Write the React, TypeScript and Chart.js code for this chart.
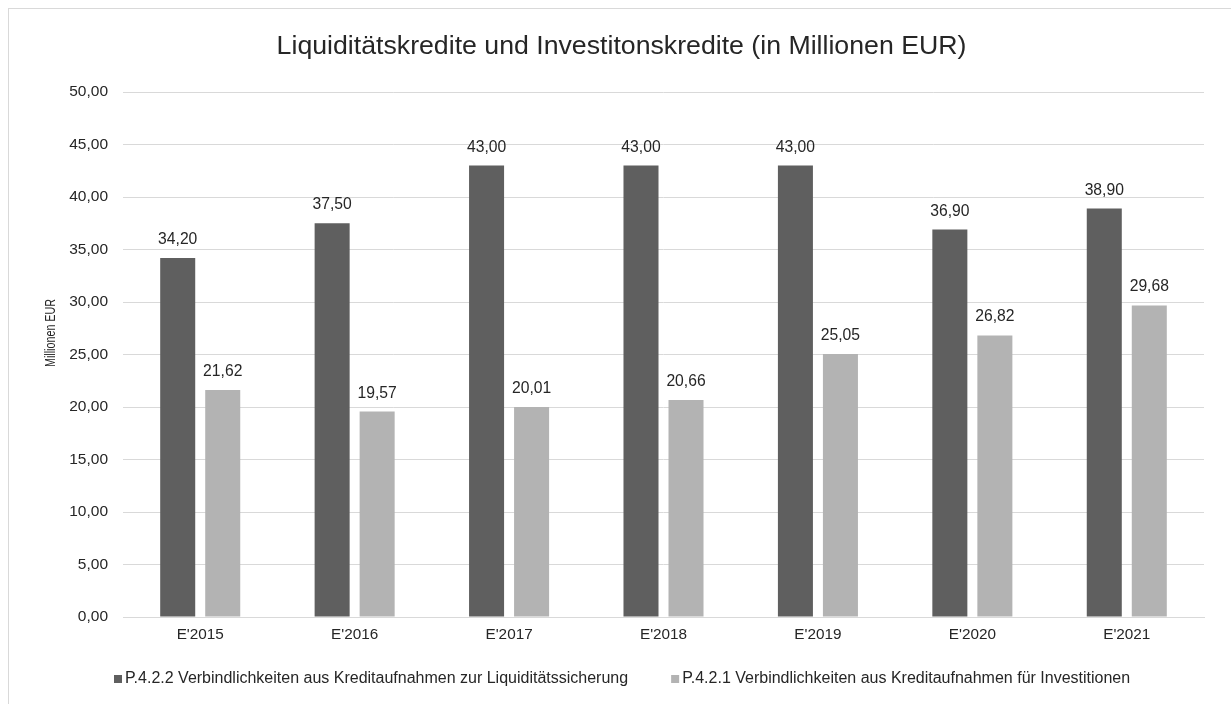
import React, { useEffect, useRef } from "react";
import { Chart, registerables } from "chart.js";

Chart.register(...registerables);

const categories = ["E'2015", "E'2016", "E'2017", "E'2018", "E'2019", "E'2020", "E'2021"];
const liquiditaet = [34.2, 37.5, 43.0, 43.0, 43.0, 36.9, 38.9];
const investitionen = [21.62, 19.57, 20.01, 20.66, 25.05, 26.82, 29.68];
const seriesNames = [
  "P.4.2.2 Verbindlichkeiten aus Kreditaufnahmen zur Liquiditätssicherung",
  "P.4.2.1 Verbindlichkeiten aus Kreditaufnahmen für Investitionen",
];
const titleText = "Liquiditätskredite und Investitonskredite (in Millionen EUR)";
const yTitle = "Millionen EUR";

const FONT = "'Liberation Sans', Arial, sans-serif";
const DARK = "#5f5f5f";
const LIGHT = "#b3b3b3";
const TEXT = "#262626";

const fmt = (v: number) => v.toFixed(2).replace(".", ",");

const dataLabels = {
  id: "dataLabels",
  afterDatasetsDraw(chart: any) {
    const ctx = chart.ctx;
    ctx.save();
    ctx.font = `15.7px ${FONT}`;
    ctx.fillStyle = TEXT;
    ctx.textAlign = "center";
    ctx.textBaseline = "alphabetic";
    chart.data.datasets.forEach((ds: any, i: number) => {
      const meta = chart.getDatasetMeta(i);
      meta.data.forEach((el: any, j: number) => {
        ctx.fillText(fmt(ds.data[j]), el.x, el.y - 14);
      });
    });
    ctx.restore();
  },
};

const yAxisTitle = {
  id: "yAxisTitle",
  afterDraw(chart: any) {
    const ctx = chart.ctx;
    ctx.save();
    ctx.font = `15px ${FONT}`;
    ctx.fillStyle = TEXT;
    ctx.textAlign = "center";
    ctx.textBaseline = "middle";
    const w = ctx.measureText(yTitle).width;
    ctx.translate(42, 324);
    ctx.rotate(-Math.PI / 2);
    ctx.scale(68 / w, 1);
    ctx.fillText(yTitle, 0, 0);
    ctx.restore();
  },
};

const customLegend = {
  id: "customLegend",
  afterDraw(chart: any) {
    const ctx = chart.ctx;
    ctx.save();
    ctx.font = `16px ${FONT}`;
    ctx.textBaseline = "middle";
    ctx.textAlign = "left";
    const cy = 670;
    let x = 105;
    chart.data.datasets.forEach((ds: any) => {
      ctx.fillStyle = ds.backgroundColor;
      ctx.fillRect(x, cy - 4, 8, 8);
      ctx.fillStyle = TEXT;
      ctx.fillText(ds.label, x + 11, cy);
      x += 11 + ctx.measureText(ds.label).width + 43;
    });
    ctx.restore();
  },
};

export default function App() {
  const ref = useRef<HTMLCanvasElement>(null);
  useEffect(() => {
    if (!ref.current) return;
    const chart = new Chart(ref.current, {
      type: "bar",
      data: {
        labels: categories,
        datasets: [
          { label: seriesNames[0], data: liquiditaet, backgroundColor: DARK, categoryPercentage: 0.583, barPercentage: 0.778 },
          { label: seriesNames[1], data: investitionen, backgroundColor: LIGHT, categoryPercentage: 0.583, barPercentage: 0.778 },
        ],
      },
      options: {
        responsive: false,
        animation: false,
        layout: { padding: { left: 30, right: 27, top: 0, bottom: 43 } },
        plugins: {
          legend: { display: false },
          tooltip: { enabled: false },
          title: {
            display: true,
            text: titleText,
            color: TEXT,
            font: { family: FONT, size: 26.7, weight: "normal" },
            padding: { top: 22, bottom: 29 },
          },
        },
        scales: {
          x: {
            grid: { display: false, drawTicks: false },
            border: { display: true, color: "#d9d9d9", width: 1 },
            ticks: { color: TEXT, font: { family: FONT, size: 15.3 }, padding: 9 },
            afterFit(scale: any) { scale.height = 44; },
          },
          y: {
            min: 0,
            max: 50,
            grid: { color: "#d9d9d9", drawTicks: false },
            border: { display: false },
            ticks: {
              stepSize: 5,
              color: TEXT,
              font: { family: FONT, size: 15.5 },
              padding: 15,
              callback: (v: any) => fmt(Number(v)),
            },
            afterFit(scale: any) { scale.width = 84; },
          },
        },
      },
      plugins: [dataLabels, yAxisTitle, customLegend],
    });
    return () => chart.destroy();
  }, []);

  return (
    <div style={{ position: "fixed", left: 0, top: 0, width: "100vw", height: "100vh", overflow: "hidden", background: "#fff" }}>
      <div style={{ position: "absolute", left: 8, top: 8, width: 1240, height: 720, border: "1px solid #d9d9d9" }}>
        <canvas ref={ref} width={1222} height={695} style={{ display: "block" }} />
      </div>
    </div>
  );
}
